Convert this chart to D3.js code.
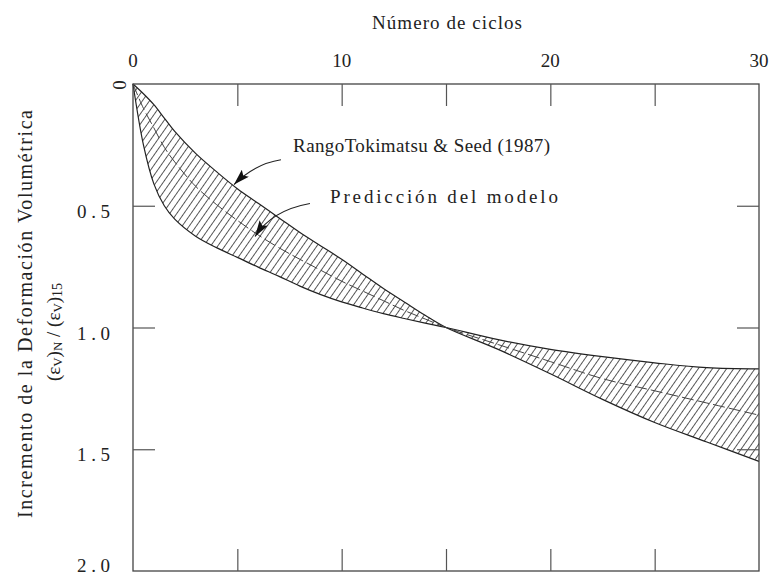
<!DOCTYPE html>
<html><head><meta charset="utf-8">
<script src="https://cdn.jsdelivr.net/npm/d3@7"></script>
<style>
body{margin:0;background:#fff}
svg{display:block}
text{font-family:"Liberation Serif","Times New Roman",serif;fill:#222}
</style>
</head><body>
<svg id="chart" width="772" height="578"></svg>
<script>
// ---- data ----
const cycles    = [0, 0.5, 1, 1.5, 2, 3, 4, 5, 6, 7, 8, 9, 10, 11, 12, 13, 14, 15, 17.5, 20, 22.5, 25, 27.5, 30];
const rangoA    = [0, 0.04, 0.085, 0.14, 0.195, 0.285, 0.36, 0.43, 0.49, 0.55, 0.61, 0.665, 0.72, 0.78, 0.84, 0.895, 0.95, 1.0, 1.09, 1.19, 1.295, 1.39, 1.47, 1.55];
const rangoB    = [0, 0.25, 0.41, 0.50, 0.555, 0.625, 0.672, 0.712, 0.752, 0.79, 0.83, 0.865, 0.895, 0.92, 0.943, 0.963, 0.982, 1.0, 1.05, 1.09, 1.12, 1.145, 1.165, 1.17];
const modelo    = [0, 0.1, 0.18, 0.26, 0.32, 0.42, 0.495, 0.56, 0.62, 0.673, 0.72, 0.765, 0.81, 0.85, 0.89, 0.93, 0.965, 1.0, 1.07, 1.14, 1.21, 1.26, 1.31, 1.36];
const xLabelValues = [0, 10, 20, 30];
const xTickValues  = [5, 10, 15, 20, 25];
const yTickValues  = [0.5, 1.0, 1.5];
const yLabelValues = [0.5, 1.0, 1.5, 2.0];
const yLabelTexts  = ["0.5", "1.0", "1.5", "2.0"];
const xTitle = "Número de ciclos";
const yTitle = "Incremento de la Deformación Volumétrica";
const annRango  = {text: "RangoTokimatsu & Seed (1987)", at: [7.67, 0.278], from: [7.09, 0.311], ctrl: [5.85, 0.327], tip: [4.84, 0.413]};
const annModelo = {text: "Predicción del modelo", at: [9.44, 0.487], from: [8.48, 0.491], ctrl: [6.66, 0.519], tip: [5.85, 0.626]};

// ---- drawing ----
const svg = d3.select("#chart");
const x = d3.scaleLinear().domain([0, 30]).range([133, 759]);
const y = d3.scaleLinear().domain([0, 2]).range([84, 571]);

const defs = svg.append("defs");
defs.append("pattern").attr("id", "hatch").attr("patternUnits", "userSpaceOnUse")
  .attr("width", 5.8).attr("height", 10).attr("patternTransform", "rotate(35)")
  .append("line").attr("x1", 0).attr("y1", -1).attr("x2", 0).attr("y2", 11)
  .attr("stroke", "#000").attr("stroke-width", 1.3);
defs.append("marker").attr("id", "arrow").attr("viewBox", "0 0 16 10")
  .attr("refX", 16).attr("refY", 5).attr("markerWidth", 16).attr("markerHeight", 10)
  .attr("markerUnits", "userSpaceOnUse").attr("orient", "auto")
  .append("path").attr("d", "M0,0 L16,5 L0,10 L3,5 Z").attr("fill", "#111");

const rows = cycles.map((n, i) => ({n, a: rangoA[i], b: rangoB[i], m: modelo[i]}));
const curve = d3.curveCatmullRom.alpha(0.5);

// band
svg.append("path").datum(rows)
  .attr("d", d3.area().x(d => x(d.n)).y0(d => y(d.a)).y1(d => y(d.b)).curve(curve))
  .attr("fill", "url(#hatch)");
const edge = key => d3.line().x(d => x(d.n)).y(d => y(d[key])).curve(curve);
svg.append("path").datum(rows).attr("d", edge("a")).attr("fill", "none").attr("stroke", "#222").attr("stroke-width", 1.2);
svg.append("path").datum(rows).attr("d", edge("b")).attr("fill", "none").attr("stroke", "#222").attr("stroke-width", 1.2);
svg.append("path").datum(rows).attr("d", edge("m")).attr("fill", "none").attr("stroke", "#444")
  .attr("stroke-width", 1).attr("stroke-dasharray", "12,4");

// frame
svg.append("rect").attr("x", x(0)).attr("y", y(0)).attr("width", x(30) - x(0)).attr("height", y(2) - y(0))
  .attr("fill", "none").attr("stroke", "#444").attr("stroke-width", 1.3);

// inward ticks
const styleAxis = g => { g.select(".domain").remove(); g.selectAll(".tick line").attr("stroke", "#555").attr("stroke-width", 1.2); g.selectAll(".tick text").remove(); };
svg.append("g").attr("transform", `translate(0,${y(0)})`).call(d3.axisTop(x).tickValues(xTickValues).tickSizeInner(-22).tickSizeOuter(0)).call(styleAxis);
svg.append("g").attr("transform", `translate(0,${y(2)})`).call(d3.axisBottom(x).tickValues(xTickValues).tickSizeInner(-22).tickSizeOuter(0)).call(styleAxis);
svg.append("g").attr("transform", `translate(${x(0)},0)`).call(d3.axisLeft(y).tickValues(yTickValues).tickSizeInner(-22).tickSizeOuter(0)).call(styleAxis);
svg.append("g").attr("transform", `translate(${x(30)},0)`).call(d3.axisRight(y).tickValues(yTickValues).tickSizeInner(-22).tickSizeOuter(0)).call(styleAxis);

// x labels (top)
svg.selectAll(".xl").data(xLabelValues).enter().append("text")
  .attr("x", d => x(d)).attr("y", 67).attr("text-anchor", "middle").attr("font-size", 19)
  .text(d => d);
// y labels
svg.append("text").attr("transform", `translate(${x(0) - 14},${y(0) + 1}) rotate(-90)`)
  .attr("text-anchor", "middle").attr("dominant-baseline", "central").attr("font-size", 19).text("0");
svg.selectAll(".yl").data(yLabelValues).enter().append("text")
  .attr("x", 110).attr("y", d => Math.min(y(d) + 12, 572)).attr("text-anchor", "end").attr("font-size", 19)
  .attr("textLength", 33).attr("lengthAdjust", "spacing")
  .text((d, i) => yLabelTexts[i]);

// titles
svg.append("text").attr("x", 447).attr("y", 29).attr("text-anchor", "middle").attr("font-size", 19)
  .attr("textLength", 150).attr("lengthAdjust", "spacing").text(xTitle);
svg.append("text").attr("transform", "translate(32,314) rotate(-90)").attr("text-anchor", "middle")
  .attr("font-size", 20).attr("textLength", 408).attr("lengthAdjust", "spacing").text(yTitle);
const sub = svg.append("text").attr("transform", "translate(60,332) rotate(-90)").attr("text-anchor", "middle").attr("font-size", 19);
sub.append("tspan").text("(ε");
sub.append("tspan").attr("font-size", 13).attr("dy", 2).text("V");
sub.append("tspan").attr("dy", -2).text(")");
sub.append("tspan").attr("font-size", 13).attr("dy", 2).text("N");
sub.append("tspan").attr("dy", -2).text(" / (ε");
sub.append("tspan").attr("font-size", 13).attr("dy", 2).text("V");
sub.append("tspan").attr("dy", -2).text(")");
sub.append("tspan").attr("font-size", 14).attr("dy", 2).text("15");

// annotations
[[annRango, 257], [annModelo, 228]].forEach(([a, w]) => {
  svg.append("text").attr("x", x(a.at[0])).attr("y", y(a.at[1])).attr("font-size", 19)
    .attr("textLength", w).attr("lengthAdjust", "spacing").text(a.text);
  const p = d3.path();
  p.moveTo(x(a.from[0]), y(a.from[1]));
  p.quadraticCurveTo(x(a.ctrl[0]), y(a.ctrl[1]), x(a.tip[0]), y(a.tip[1]));
  svg.append("path").attr("d", p.toString()).attr("fill", "none").attr("stroke", "#222")
    .attr("stroke-width", 1.1).attr("marker-end", "url(#arrow)");
});
</script>
</body></html>
